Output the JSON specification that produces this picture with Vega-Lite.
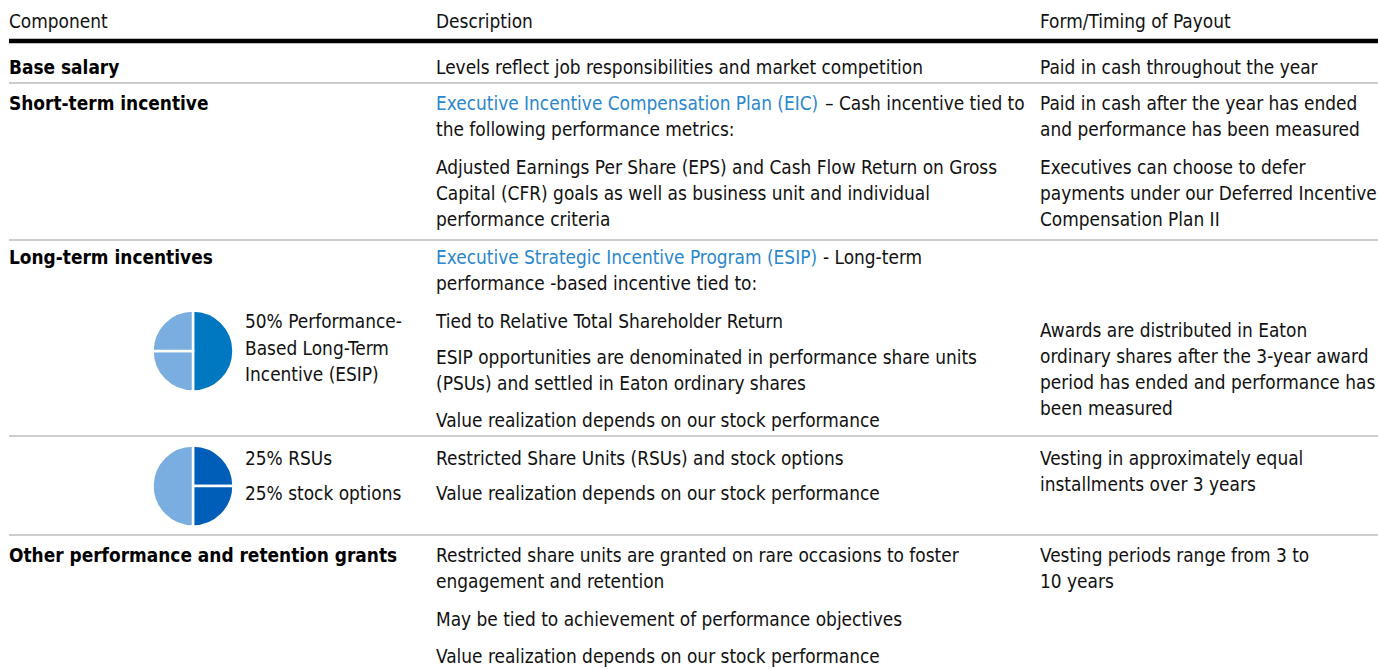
{
  "$schema": "https://vega.github.io/schema/vega-lite/v6.json",
  "width": 1378,
  "height": 669,
  "padding": 0,
  "autosize": {"type": "fit", "contains": "padding"},
  "config": {
    "view": {"stroke": null},
    "text": {"font": "DejaVu Sans Condensed, Liberation Sans Narrow, sans-serif", "fontSize": 18.9, "align": "left", "baseline": "middle", "color": "#111111"}
  },
  "datasets": {
    "rules": [
      {"col": 0, "col2": 5, "line": 1.58, "kind": "thick"},
      {"col": 0, "col2": 5, "line": 3.19, "kind": "thin"},
      {"col": 0, "col2": 5, "line": 9.23, "kind": "thin"},
      {"col": 0, "col2": 5, "line": 16.77, "kind": "thin"},
      {"col": 0, "col2": 5, "line": 20.58, "kind": "thin"}
    ],
    "headers": [
      {"col": 0, "line": 0.85, "text": "Component"},
      {"col": 3, "line": 0.85, "text": "Description"},
      {"col": 4, "line": 0.85, "text": "Form/Timing of Payout"}
    ],
    "components": [
      {"col": 0, "line": 2.62, "text": "Base salary"},
      {"col": 0, "line": 4.0, "text": "Short-term incentive"},
      {"col": 0, "line": 9.92, "text": "Long-term incentives"},
      {"col": 0, "line": 21.38, "text": "Other performance and retention grants"}
    ],
    "body": [
      {"col": 3, "line": 2.62, "text": "Levels reflect job responsibilities and market competition"},
      {"col": 4, "line": 2.62, "text": "Paid in cash throughout the year"},
      {"col": 3, "line": 5.0, "text": "the following performance metrics:"},
      {"col": 4, "line": 4.0, "text": "Paid in cash after the year has ended"},
      {"col": 4, "line": 5.0, "text": "and performance has been measured"},
      {"col": 3, "line": 6.46, "text": "Adjusted Earnings Per Share (EPS) and Cash Flow Return on Gross"},
      {"col": 3, "line": 7.46, "text": "Capital (CFR) goals as well as business unit and individual"},
      {"col": 3, "line": 8.46, "text": "performance criteria"},
      {"col": 4, "line": 6.46, "text": "Executives can choose to defer"},
      {"col": 4, "line": 7.46, "text": "payments under our Deferred Incentive"},
      {"col": 4, "line": 8.46, "text": "Compensation Plan II"},
      {"col": 3, "line": 10.92, "text": "performance -based incentive tied to:"},
      {"col": 2, "line": 12.38, "text": "50% Performance-"},
      {"col": 2, "line": 13.42, "text": "Based Long-Term"},
      {"col": 2, "line": 14.42, "text": "Incentive (ESIP)"},
      {"col": 3, "line": 12.38, "text": "Tied to Relative Total Shareholder Return"},
      {"col": 3, "line": 13.77, "text": "ESIP opportunities are denominated in performance share units"},
      {"col": 3, "line": 14.77, "text": "(PSUs) and settled in Eaton ordinary shares"},
      {"col": 3, "line": 16.19, "text": "Value realization depends on our stock performance"},
      {"col": 4, "line": 12.73, "text": "Awards are distributed in Eaton"},
      {"col": 4, "line": 13.73, "text": "ordinary shares after the 3-year award"},
      {"col": 4, "line": 14.73, "text": "period has ended and performance has"},
      {"col": 4, "line": 15.73, "text": "been measured"},
      {"col": 2, "line": 17.65, "text": "25% RSUs"},
      {"col": 2, "line": 19.0, "text": "25% stock options"},
      {"col": 3, "line": 17.65, "text": "Restricted Share Units (RSUs) and stock options"},
      {"col": 3, "line": 19.0, "text": "Value realization depends on our stock performance"},
      {"col": 4, "line": 17.65, "text": "Vesting in approximately equal"},
      {"col": 4, "line": 18.65, "text": "installments over 3 years"},
      {"col": 3, "line": 21.38, "text": "Restricted share units are granted on rare occasions to foster"},
      {"col": 3, "line": 22.38, "text": "engagement and retention"},
      {"col": 3, "line": 23.85, "text": "May be tied to achievement of performance objectives"},
      {"col": 3, "line": 25.27, "text": "Value realization depends on our stock performance"},
      {"col": 4, "line": 21.38, "text": "Vesting periods range from 3 to"},
      {"col": 4, "line": 22.38, "text": "10 years"}
    ],
    "links": [
      {"col": 3, "line": 4.0, "text": "Executive Incentive Compensation Plan (EIC)"},
      {"col": 3, "line": 9.92, "text": "Executive Strategic Incentive Program (ESIP)"}
    ],
    "tailEIC": [
      {"col": 3, "line": 4.0, "text": "– Cash incentive tied to"}
    ],
    "tailESIP": [
      {"col": 3, "line": 9.92, "text": "- Long-term"}
    ],
    "pies": [
      {"col": 1, "line": 13.5, "start": 0, "end": 50, "shade": "dark1"},
      {"col": 1, "line": 13.5, "start": 50, "end": 75, "shade": "light"},
      {"col": 1, "line": 13.5, "start": 75, "end": 100, "shade": "light"},
      {"col": 1, "line": 18.69, "start": 0, "end": 25, "shade": "dark2"},
      {"col": 1, "line": 18.69, "start": 25, "end": 50, "shade": "dark2"},
      {"col": 1, "line": 18.69, "start": 50, "end": 100, "shade": "light"}
    ]
  },
  "encoding": {
    "x": {"field": "col", "type": "quantitative", "axis": null, "scale": {"domain": [0, 1, 2, 3, 4, 5], "range": [9, 193, 245, 436, 1040, 1378], "nice": false, "zero": false}},
    "y": {"field": "line", "type": "quantitative", "axis": null, "scale": {"domain": [0, 25.7308], "reverse": true, "nice": false, "zero": false}}
  },
  "layer": [
    {
      "data": {"name": "rules"},
      "transform": [{"filter": "datum.kind === 'thick'"}],
      "mark": {"type": "rule", "strokeWidth": 4.5, "color": "#000000"},
      "encoding": {"x2": {"field": "col2"}}
    },
    {
      "data": {"name": "rules"},
      "transform": [{"filter": "datum.kind === 'thin'"}],
      "mark": {"type": "rule", "strokeWidth": 1.5, "color": "#bcbcbc"},
      "encoding": {"x2": {"field": "col2"}}
    },
    {
      "data": {"name": "pies"},
      "mark": {"type": "arc", "outerRadius": 40.5, "stroke": "#ffffff", "strokeWidth": 2.5},
      "encoding": {
        "theta": {"field": "start", "type": "quantitative", "stack": null, "scale": {"domain": [0, 100], "range": [0, 6.283185]}},
        "theta2": {"field": "end"},
        "color": {"field": "shade", "type": "nominal", "legend": null, "scale": {"domain": ["dark1", "dark2", "light"], "range": ["#0078c1", "#005eb8", "#7aaee0"]}}
      }
    },
    {
      "data": {"name": "headers"},
      "mark": {"type": "text"},
      "encoding": {"text": {"field": "text"}}
    },
    {
      "data": {"name": "components"},
      "mark": {"type": "text", "fontWeight": "bold", "color": "#000000"},
      "encoding": {"text": {"field": "text"}}
    },
    {
      "data": {"name": "body"},
      "mark": {"type": "text"},
      "encoding": {"text": {"field": "text"}}
    },
    {
      "data": {"name": "links"},
      "mark": {"type": "text", "color": "#2a87cc"},
      "encoding": {"text": {"field": "text"}}
    },
    {
      "data": {"name": "tailEIC"},
      "mark": {"type": "text", "dx": 389},
      "encoding": {"text": {"field": "text"}}
    },
    {
      "data": {"name": "tailESIP"},
      "mark": {"type": "text", "dx": 387},
      "encoding": {"text": {"field": "text"}}
    }
  ]
}
